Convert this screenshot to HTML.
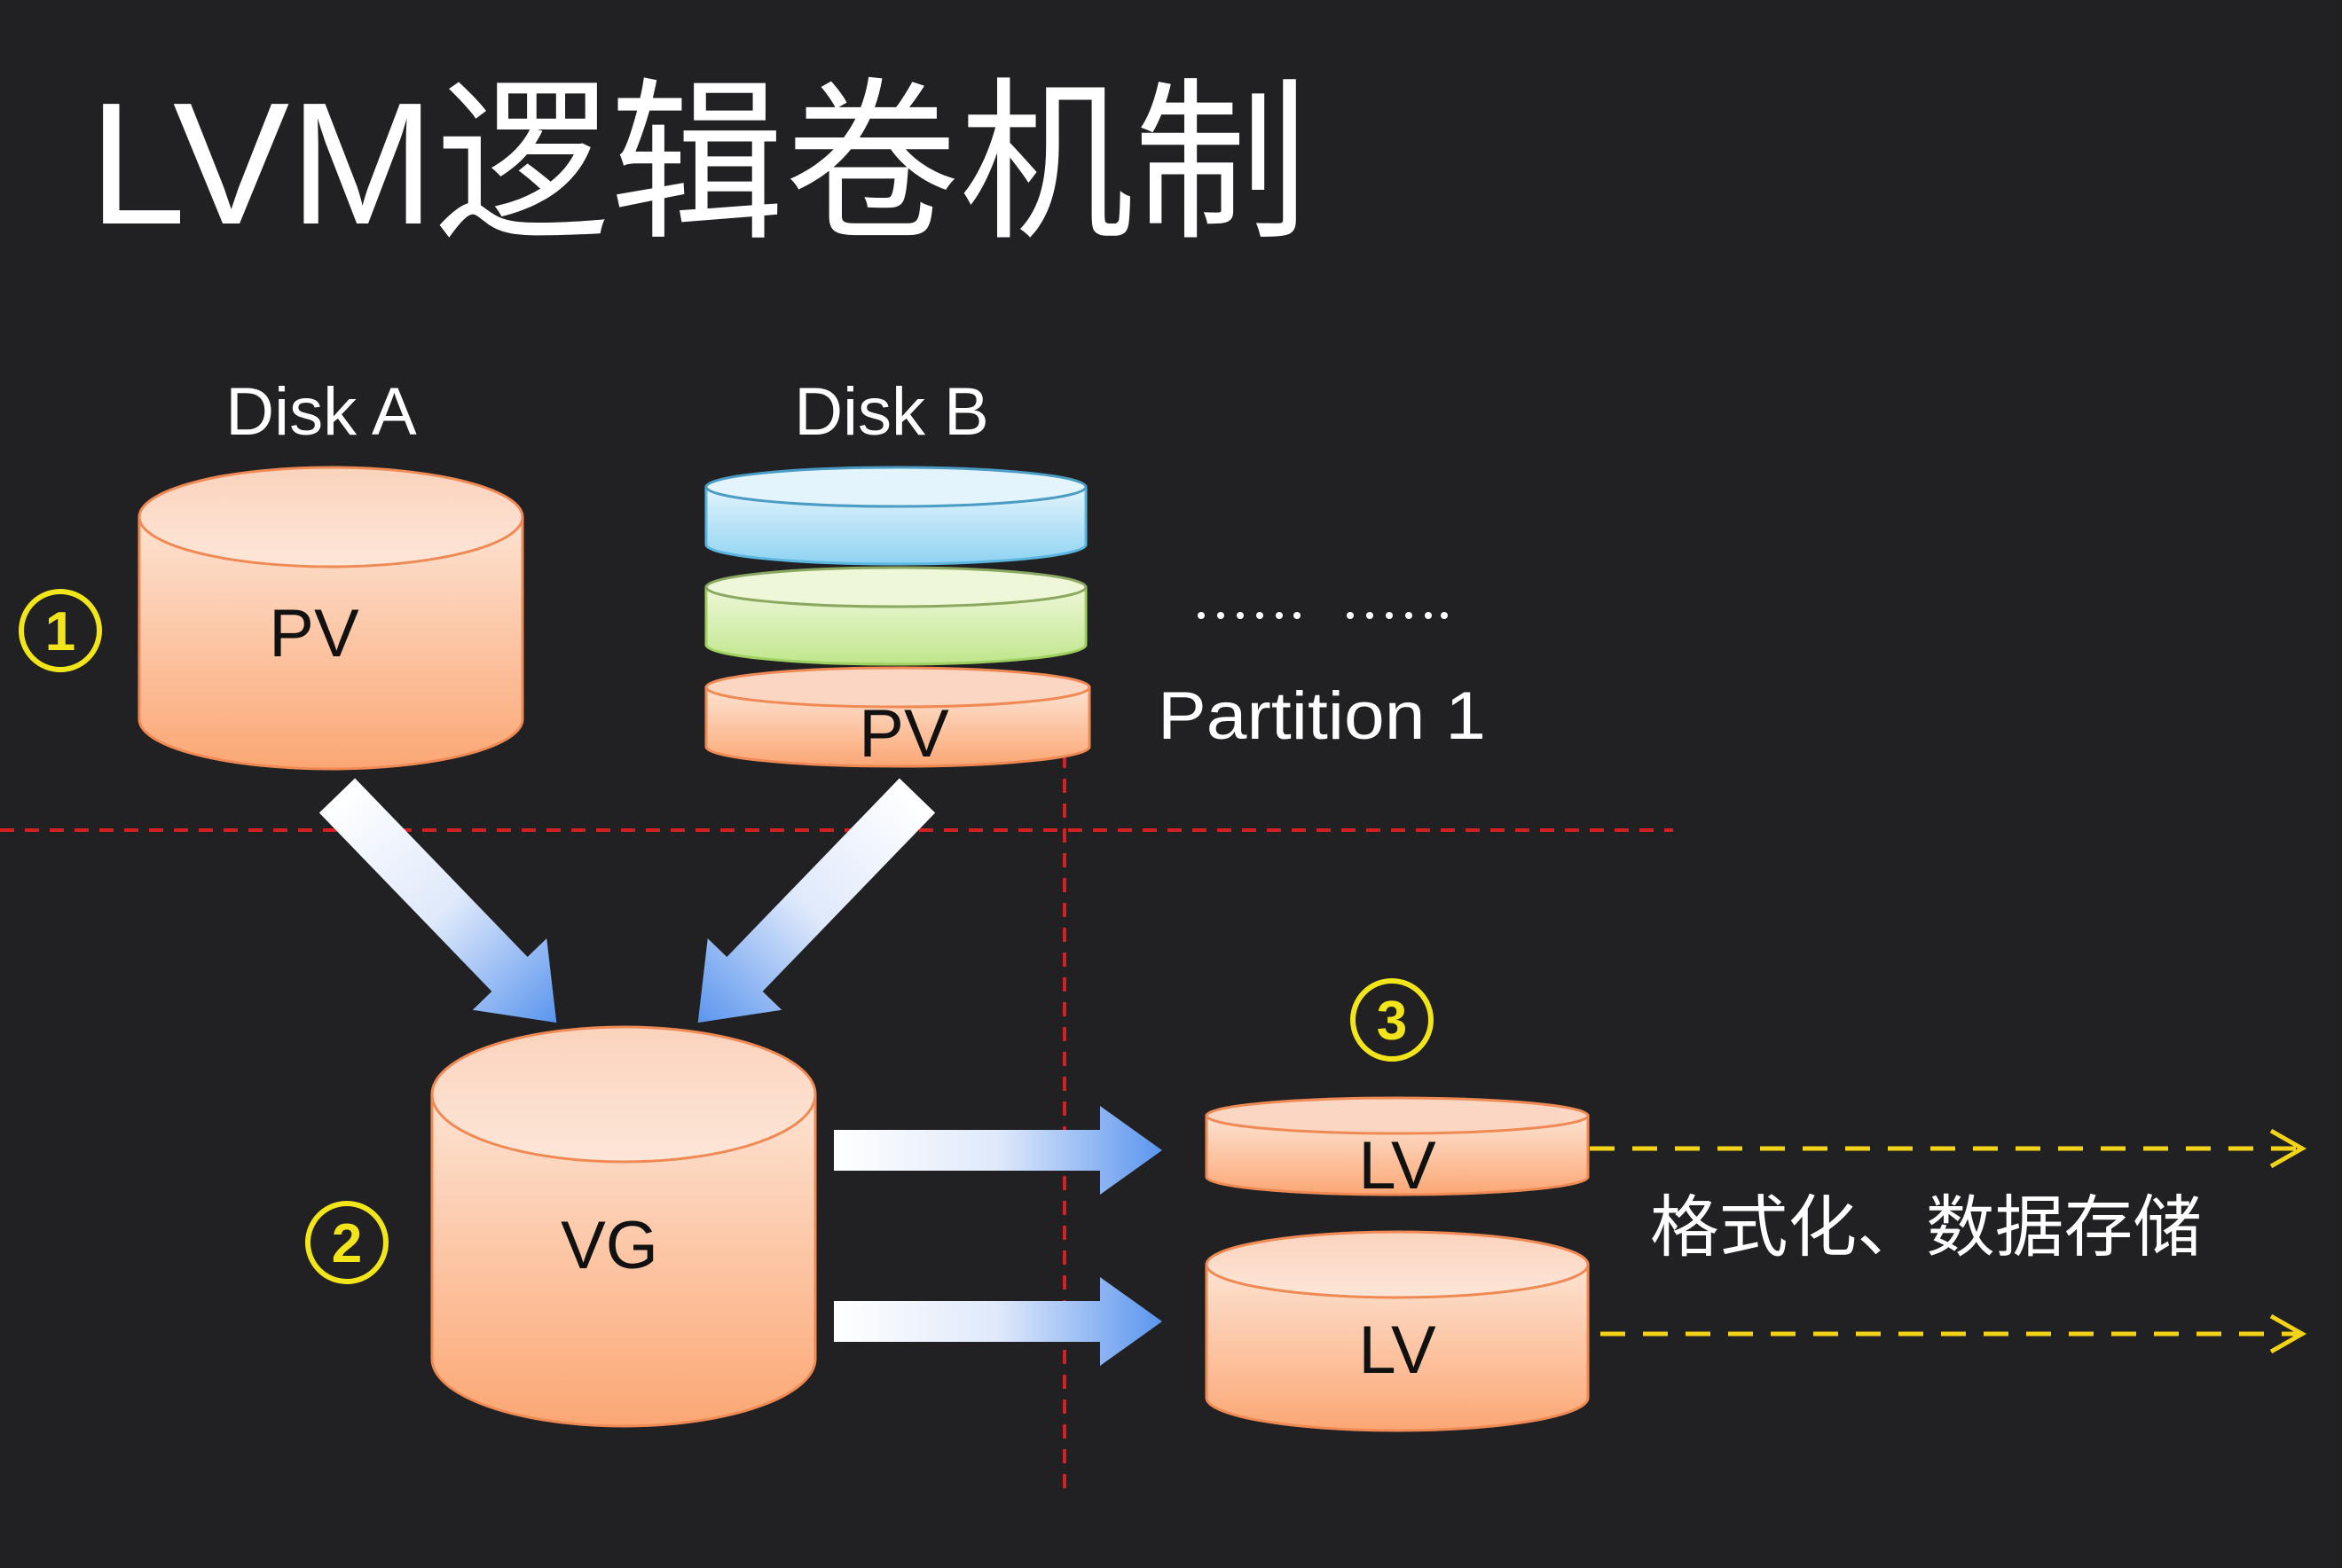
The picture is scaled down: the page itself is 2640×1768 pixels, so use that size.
<!DOCTYPE html>
<html><head><meta charset="utf-8"><style>
html,body{margin:0;padding:0;background:#212123;}
svg{display:block}
text{font-family:"Liberation Sans","Noto Sans CJK SC",sans-serif;}
</style></head><body>
<svg width="2640" height="1768" viewBox="0 0 2640 1768" xmlns="http://www.w3.org/2000/svg">
<defs>
<linearGradient id="or" x1="0" y1="0" x2="0" y2="1"><stop offset="0" stop-color="#fde3d3"/><stop offset="1" stop-color="#fba774"/></linearGradient>
<linearGradient id="ort" x1="0" y1="0" x2="0" y2="1"><stop offset="0" stop-color="#fbd3bd"/><stop offset="1" stop-color="#fde6d8"/></linearGradient>
<linearGradient id="bl" x1="0" y1="0" x2="0" y2="1"><stop offset="0" stop-color="#e3f4fc"/><stop offset="1" stop-color="#8fd3f2"/></linearGradient>
<linearGradient id="gr" x1="0" y1="0" x2="0" y2="1"><stop offset="0" stop-color="#eef7d8"/><stop offset="1" stop-color="#bfe68b"/></linearGradient>
<linearGradient id="ar" x1="0" y1="0" x2="1" y2="0"><stop offset="0" stop-color="#ffffff"/><stop offset="0.5" stop-color="#dfe9fb"/><stop offset="1" stop-color="#5b95ee"/></linearGradient>
</defs>
<rect width="2640" height="1768" fill="#212123"/>
<text x="100" y="252" font-size="196" fill="#fff" textLength="1375" lengthAdjust="spacingAndGlyphs">LVM逻辑卷机制</text>
<text x="362" y="490" font-size="76" fill="#fff" text-anchor="middle">Disk A</text>
<text x="1005" y="490" font-size="76" fill="#fff" text-anchor="middle">Disk B</text>

<line x1="0" y1="936" x2="1886" y2="936" stroke="#d42020" stroke-width="4" stroke-dasharray="16 12"/>
<line x1="1200" y1="850" x2="1200" y2="1684" stroke="#d42020" stroke-width="4" stroke-dasharray="16 12"/>

<path d="M157 583 L157 811 A216 56 0 0 0 589 811 L589 583 Z" fill="url(#or)" stroke="#f08a55" stroke-width="3"/>
<ellipse cx="373" cy="583" rx="216" ry="56" fill="url(#ort)" stroke="#f08a55" stroke-width="3"/>
<text x="354" y="740" font-size="76" fill="#111" text-anchor="middle">PV</text>

<path d="M796 549 L796 614 A214 22 0 0 0 1224 614 L1224 549 Z" fill="url(#bl)" stroke="#5bb6e0" stroke-width="3"/>
<ellipse cx="1010" cy="549" rx="214" ry="22" fill="#e3f4fc" stroke="#4a9cc4" stroke-width="3"/>
<path d="M796 662 L796 727 A214 22 0 0 0 1224 727 L1224 662 Z" fill="url(#gr)" stroke="#9fd060" stroke-width="3"/>
<ellipse cx="1010" cy="662" rx="214" ry="22" fill="#eef7d8" stroke="#8aa860" stroke-width="3"/>
<path d="M796 775 L796 842 A216 22 0 0 0 1228 842 L1228 775 Z" fill="url(#or)" stroke="#f08a55" stroke-width="3"/>
<ellipse cx="1012" cy="775" rx="216" ry="22" fill="#fbd6c2" stroke="#f08a55" stroke-width="3"/>
<text x="1019" y="853" font-size="76" fill="#111" text-anchor="middle">PV</text>

<g fill="#fff">
<circle cx="1354" cy="694" r="4"/><circle cx="1376" cy="694" r="4"/><circle cx="1398" cy="694" r="4"/><circle cx="1420" cy="694" r="4"/><circle cx="1442" cy="694" r="4"/><circle cx="1462" cy="694" r="4"/>
<circle cx="1522" cy="694" r="4"/><circle cx="1544" cy="694" r="4"/><circle cx="1566" cy="694" r="4"/><circle cx="1588" cy="694" r="4"/><circle cx="1610" cy="694" r="4"/><circle cx="1628" cy="694" r="4"/>
</g>
<text x="1305" y="833" font-size="76" fill="#fff" textLength="370" lengthAdjust="spacingAndGlyphs">Partition 1</text>

<g fill="none" stroke="#f2e51a" stroke-width="6">
<circle cx="68" cy="711" r="44"/><circle cx="391" cy="1401" r="44"/><circle cx="1569" cy="1150" r="44"/>
</g>
<g font-size="62" font-weight="bold" fill="#f2e51a" text-anchor="middle">
<text x="68" y="733">1</text><text x="391" y="1423">2</text><text x="1569" y="1172">3</text>
</g>

<g transform="translate(380,897) rotate(46)">
<polygon points="0,-28 280,-28 280,-58 356,0 280,58 280,28 0,28" fill="url(#ar)"/>
</g>
<g transform="translate(1034,897) rotate(134)">
<polygon points="0,-28 280,-28 280,-58 356,0 280,58 280,28 0,28" fill="url(#ar)"/>
</g>

<path d="M487 1234 L487 1532 A216 76 0 0 0 919 1532 L919 1234 Z" fill="url(#or)" stroke="#f08a55" stroke-width="3"/>
<ellipse cx="703" cy="1234" rx="216" ry="76" fill="url(#ort)" stroke="#f08a55" stroke-width="3"/>
<text x="687" y="1430" font-size="76" fill="#111" text-anchor="middle">VG</text>

<polygon points="940,1274 1240,1274 1240,1247 1310,1297 1240,1347 1240,1320 940,1320" fill="url(#ar)"/>
<polygon points="940,1467 1240,1467 1240,1440 1310,1490 1240,1540 1240,1513 940,1513" fill="url(#ar)"/>

<path d="M1360 1258 L1360 1327 A215 20 0 0 0 1790 1327 L1790 1258 Z" fill="url(#or)" stroke="#f08a55" stroke-width="3"/>
<ellipse cx="1575" cy="1258" rx="215" ry="20" fill="#fbd6c2" stroke="#f08a55" stroke-width="3"/>
<text x="1575" y="1340" font-size="76" fill="#111" text-anchor="middle">LV</text>
<path d="M1360 1426 L1360 1576 A215 37 0 0 0 1790 1576 L1790 1426 Z" fill="url(#or)" stroke="#f08a55" stroke-width="3"/>
<ellipse cx="1575" cy="1426" rx="215" ry="37" fill="url(#ort)" stroke="#f08a55" stroke-width="3"/>
<text x="1575" y="1548" font-size="76" fill="#111" text-anchor="middle">LV</text>

<g stroke="#f2d318" stroke-width="5" fill="none">
<line x1="1792" y1="1295" x2="2590" y2="1295" stroke-dasharray="28 20"/>
<polyline points="2560,1275 2595,1295 2560,1315"/>
<line x1="1804" y1="1504" x2="2590" y2="1504" stroke-dasharray="28 20"/>
<polyline points="2560,1484 2595,1504 2560,1524"/>
</g>
<text x="1860" y="1410" font-size="76" fill="#fff" textLength="622" lengthAdjust="spacingAndGlyphs">格式化、数据存储</text>
</svg>
</body></html>
